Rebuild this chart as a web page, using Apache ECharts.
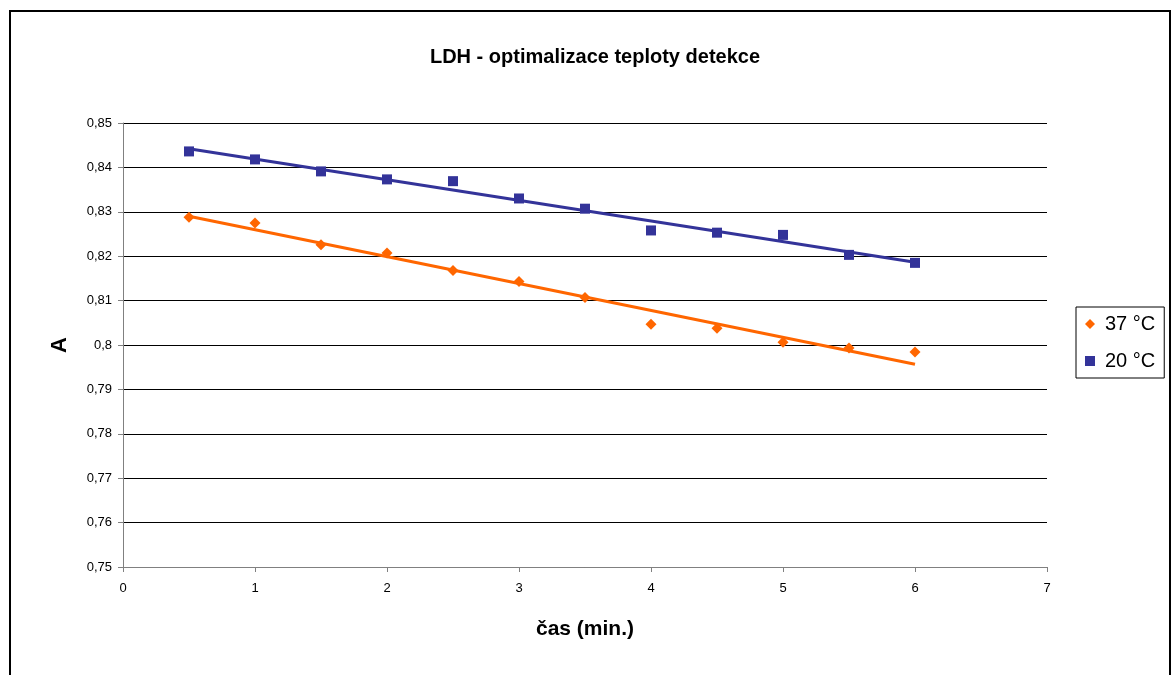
<!DOCTYPE html>
<html>
<head>
<meta charset="utf-8">
<script src="https://cdn.jsdelivr.net/npm/echarts@6/dist/echarts.min.js"></script>
<style>
  html, body { margin: 0; padding: 0; background: #fff; }
  #chart { width: 1173px; height: 675px; }
</style>
</head>
<body>
<div id="chart"></div>
<script>
// Time points (min.)
const times = [0.5, 1, 1.5, 2, 2.5, 3, 3.5, 4, 4.5, 5, 5.5, 6];
// Absorbance at 37 °C
const abs37 = [0.8288, 0.8275, 0.8226, 0.8207, 0.8168, 0.8143, 0.8107, 0.8047, 0.8038, 0.8006, 0.7993, 0.7984];
// Absorbance at 20 °C
const abs20 = [0.8436, 0.8418, 0.8391, 0.8373, 0.8369, 0.8330, 0.8307, 0.8258, 0.8253, 0.8248, 0.8203, 0.8185];
const seriesNames = ['37 °C', '20 °C'];

// Least-squares linear trend across the measured range
function trend(xs, ys) {
  const n = xs.length;
  const mx = xs.reduce((a, b) => a + b, 0) / n;
  const my = ys.reduce((a, b) => a + b, 0) / n;
  let sxy = 0, sxx = 0;
  for (let i = 0; i < n; i++) {
    sxy += (xs[i] - mx) * (ys[i] - my);
    sxx += (xs[i] - mx) * (xs[i] - mx);
  }
  const k = sxy / sxx, q = my - k * mx;
  const x0 = xs[0], x1 = xs[n - 1];
  return [[x0, k * x0 + q], [x1, k * x1 + q]];
}

const pts = (ys) => times.map((t, i) => [t, ys[i]]);
const font = 'Liberation Sans, Arial, sans-serif';
const orange = '#FF6600';
const blue = '#333399';

const chart = echarts.init(document.getElementById('chart'), null, { renderer: 'canvas' });
chart.setOption({
  backgroundColor: '#fff',
  animation: false,
  title: {
    text: 'LDH - optimalizace teploty detekce',
    left: 590, top: 42, textAlign: 'center',
    textStyle: { fontFamily: font, fontSize: 20, fontWeight: 'bold', color: '#000' }
  },
  graphic: [{
    type: 'rect', silent: true,
    shape: { x: 10, y: 11, width: 1160, height: 700 },
    style: { fill: 'none', stroke: '#000', lineWidth: 2 }
  }],
  legend: {
    orient: 'vertical', left: 1076, top: 307,
    data: [
      { name: seriesNames[0], icon: 'diamond' },
      { name: seriesNames[1], icon: 'rect' }
    ],
    itemWidth: 10, itemHeight: 10, itemGap: 17,
    padding: [7, 9, 7, 9],
    borderColor: '#000', borderWidth: 1,
    textStyle: { fontFamily: font, fontSize: 20, color: '#000', padding: [0, 0, 0, 5] }
  },
  grid: { left: 123, right: 126, top: 123, bottom: 108 },
  xAxis: {
    type: 'value', min: 0, max: 7, interval: 1,
    name: 'čas (min.)', nameLocation: 'middle', nameGap: 52,
    nameTextStyle: { fontFamily: font, fontSize: 21, fontWeight: 'bold', color: '#000' },
    axisLine: { lineStyle: { color: '#808080', width: 1 } },
    axisTick: { show: true, length: 5, lineStyle: { color: '#808080' } },
    axisLabel: { fontFamily: font, fontSize: 13, color: '#000', margin: 15 },
    splitLine: { show: false }
  },
  yAxis: {
    type: 'value', min: 0.75, max: 0.85, interval: 0.01,
    name: 'A', nameLocation: 'middle', nameGap: 52, nameRotate: 90,
    nameTextStyle: { fontFamily: font, fontSize: 22, fontWeight: 'bold', color: '#000' },
    axisLine: { show: true, lineStyle: { color: '#808080', width: 1 } },
    axisTick: { show: true, length: 5, lineStyle: { color: '#808080' } },
    axisLabel: {
      fontFamily: font, fontSize: 13, color: '#000', margin: 11,
      formatter: (v) => String(+v.toFixed(2)).replace('.', ',')
    },
    splitLine: { show: true, lineStyle: { color: '#000', width: 1 } }
  },
  series: [
    {
      name: seriesNames[0] + ' trend', type: 'line', data: trend(times, abs37),
      symbol: 'none', lineStyle: { color: orange, width: 3 }, z: 2, silent: true
    },
    {
      name: seriesNames[1] + ' trend', type: 'line', data: trend(times, abs20),
      symbol: 'none', lineStyle: { color: blue, width: 3 }, z: 2, silent: true
    },
    {
      name: seriesNames[0], type: 'scatter', data: pts(abs37),
      symbol: 'diamond', symbolSize: 11, itemStyle: { color: orange, opacity: 1 }, z: 3
    },
    {
      name: seriesNames[1], type: 'scatter', data: pts(abs20),
      symbol: 'rect', symbolSize: 10, itemStyle: { color: blue, opacity: 1 }, z: 3
    }
  ]
});
</script>
</body>
</html>
